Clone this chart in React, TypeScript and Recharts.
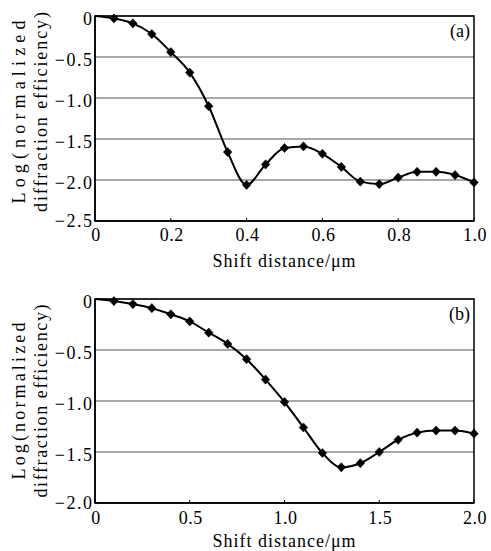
import React from "react";
import { LineChart, Line, XAxis, YAxis, CartesianGrid, ReferenceArea } from "recharts";

// Panel (a)
const xA = [0, 0.05, 0.1, 0.15, 0.2, 0.25, 0.3, 0.35, 0.4, 0.45, 0.5, 0.55, 0.6, 0.65, 0.7, 0.75, 0.8, 0.85, 0.9, 0.95, 1.0];
const yA = [0, -0.03, -0.09, -0.22, -0.44, -0.69, -1.1, -1.66, -2.06, -1.81, -1.61, -1.59, -1.68, -1.84, -2.02, -2.05, -1.97, -1.9, -1.9, -1.94, -2.03];
const xTicksA = [0, 0.2, 0.4, 0.6, 0.8, 1.0];
const yTicksA = [0, -0.5, -1.0, -1.5, -2.0, -2.5];

// Panel (b)
const xB = [0, 0.1, 0.2, 0.3, 0.4, 0.5, 0.6, 0.7, 0.8, 0.9, 1.0, 1.1, 1.2, 1.3, 1.4, 1.5, 1.6, 1.7, 1.8, 1.9, 2.0];
const yB = [0, -0.02, -0.05, -0.09, -0.15, -0.22, -0.33, -0.44, -0.59, -0.79, -1.01, -1.26, -1.51, -1.65, -1.61, -1.5, -1.38, -1.31, -1.29, -1.29, -1.32];
const xTicksB = [0, 0.5, 1.0, 1.5, 2.0];
const yTicksB = [0, -0.5, -1.0, -1.5, -2.0];

const xTitle = "Shift distance/\u03bcm";
const yTitle1 = "Log(normalized";
const yTitle2 = "diffraction efficiency)";

const FONT = "Liberation Serif";

const dataA = xA.map((x, i) => ({ x, y: yA[i] }));
const dataB = xB.map((x, i) => ({ x, y: yB[i] }));

const fmt = (v: number) => (v === 0 ? "0" : (v < 0 ? "\u2212" : "") + Math.abs(v).toFixed(1));

const Diamond = (props: any) => {
  const { cx, cy, index } = props;
  if (index === 0 || cx == null || cy == null) return <g key={`d${index}`} />;
  const w = 4.3;
  const h = 4.6;
  return (
    <path
      key={`d${index}`}
      d={`M${cx},${cy - h} L${cx + w},${cy} L${cx},${cy + h} L${cx - w},${cy} Z`}
      fill="#000"
      stroke="#000"
      strokeWidth={0.5}
    />
  );
};

const XTick = (props: any) => {
  const { x, y, payload } = props;
  return (
    <text
      x={x + 1}
      y={y + 13}
      textAnchor="middle"
      style={{ fontFamily: FONT }}
      fontSize={18}
      letterSpacing={0.5}
      fill="#000"
    >
      {fmt(payload.value)}
    </text>
  );
};

const makeYTick = (yMin: number) => (props: any) => {
  const { x, y, payload } = props;
  const isBottom = payload.value === yMin;
  return (
    <text
      x={x}
      y={y + (isBottom ? 6 : 9)}
      textAnchor="end"
      style={{ fontFamily: FONT }}
      fontSize={18}
      letterSpacing={1.5}
      fill="#000"
    >
      {fmt(payload.value)}
    </text>
  );
};

type PanelProps = {
  data: { x: number; y: number }[];
  xTicks: number[];
  yTicks: number[];
  xMax: number;
  yMin: number;
  height: number;
  top: number;
  xAxisH: number;
  xTickMargin: number;
  titleOffset: number;
  tag: string;
  yLabelCenter: number;
  len1: number;
  len2: number;
};

const Panel = (p: PanelProps) => (
  <LineChart
    width={491}
    height={p.height}
    data={p.data}
    margin={{ top: p.top, right: 17, left: 0, bottom: 0 }}
    style={{ fontFamily: FONT }}
  >
    <CartesianGrid vertical={false} stroke="#a8a8a8" strokeWidth={1.8} />
    <XAxis
      dataKey="x"
      type="number"
      domain={[0, p.xMax]}
      ticks={p.xTicks}
      tickFormatter={fmt}
      height={p.xAxisH}
      tickSize={-3}
      tickMargin={p.xTickMargin}
      axisLine={{ stroke: "#000", strokeWidth: 1.5 }}
      tickLine={{ stroke: "#000", strokeWidth: 1 }}
      tick={<XTick />}
      interval={0}
      label={{
        content: (lp: any) => {
          const vb = lp.viewBox || {};
          return (
            <text
              x={vb.x + vb.width / 2}
              y={vb.y + p.titleOffset}
              textAnchor="middle"
              style={{ fontFamily: FONT }}
              fontSize={18}
              letterSpacing={1}
              fill="#000"
            >
              {xTitle}
            </text>
          );
        },
      }}
    />
    <YAxis
      dataKey="y"
      type="number"
      domain={[p.yMin, 0]}
      ticks={p.yTicks}
      tickFormatter={fmt}
      width={95}
      tickSize={-3}
      tickMargin={4.5}
      axisLine={{ stroke: "#000", strokeWidth: 1.5 }}
      tickLine={false}
      tick={makeYTick(p.yMin)}
      interval={0}
      label={{
        content: () => (
          <g>
            <text
              transform={`translate(25,${p.yLabelCenter}) rotate(-90)`}
              textAnchor="middle"
              style={{ fontFamily: FONT }}
              fontSize={18}
              fill="#000"
              textLength={p.len1}
              lengthAdjust="spacing"
            >
              {yTitle1}
            </text>
            <text
              transform={`translate(47,${p.yLabelCenter}) rotate(-90)`}
              textAnchor="middle"
              style={{ fontFamily: FONT }}
              fontSize={18}
              fill="#000"
              textLength={p.len2}
              lengthAdjust="spacing"
            >
              {yTitle2}
            </text>
          </g>
        ),
      }}
    />
    <ReferenceArea
      x1={0}
      x2={p.xMax}
      y1={p.yMin}
      y2={0}
      fill="none"
      fillOpacity={0}
      stroke="#000"
      strokeWidth={1.5}
      strokeOpacity={1}
      label={{
        content: (lp: any) => {
          const vb = lp.viewBox || {};
          return (
            <text
              x={vb.x + vb.width - 4}
              y={vb.y + 21}
              textAnchor="end"
              style={{ fontFamily: FONT }}
              fontSize={18}
              fill="#000"
            >
              {p.tag}
            </text>
          );
        },
      }}
    />
    <Line
      dataKey="y"
      type="monotone"
      stroke="#000"
      strokeWidth={2}
      dot={Diamond}
      activeDot={false}
      isAnimationActive={false}
    />
  </LineChart>
);

export default function App() {
  return (
    <div style={{ position: "absolute", left: 0, top: 0, width: 491, height: 551, background: "#fff", fontFamily: FONT }}>
      <div style={{ position: "absolute", left: 0, top: 0 }}>
        <Panel
          data={dataA}
          xTicks={xTicksA}
          yTicks={yTicksA}
          xMax={1}
          yMin={-2.5}
          height={275}
          top={16}
          xAxisH={54}
          xTickMargin={10}
          titleOffset={46}
          tag="(a)"
          yLabelCenter={112}
          len1={183}
          len2={200}
        />
      </div>
      <div style={{ position: "absolute", left: 0, top: 275 }}>
        <Panel
          data={dataB}
          xTicks={xTicksB}
          yTicks={yTicksB}
          xMax={2}
          yMin={-2.0}
          height={276}
          top={24}
          xAxisH={48}
          xTickMargin={11}
          titleOffset={44}
          tag="(b)"
          yLabelCenter={126}
          len1={157}
          len2={193}
        />
      </div>
    </div>
  );
}
